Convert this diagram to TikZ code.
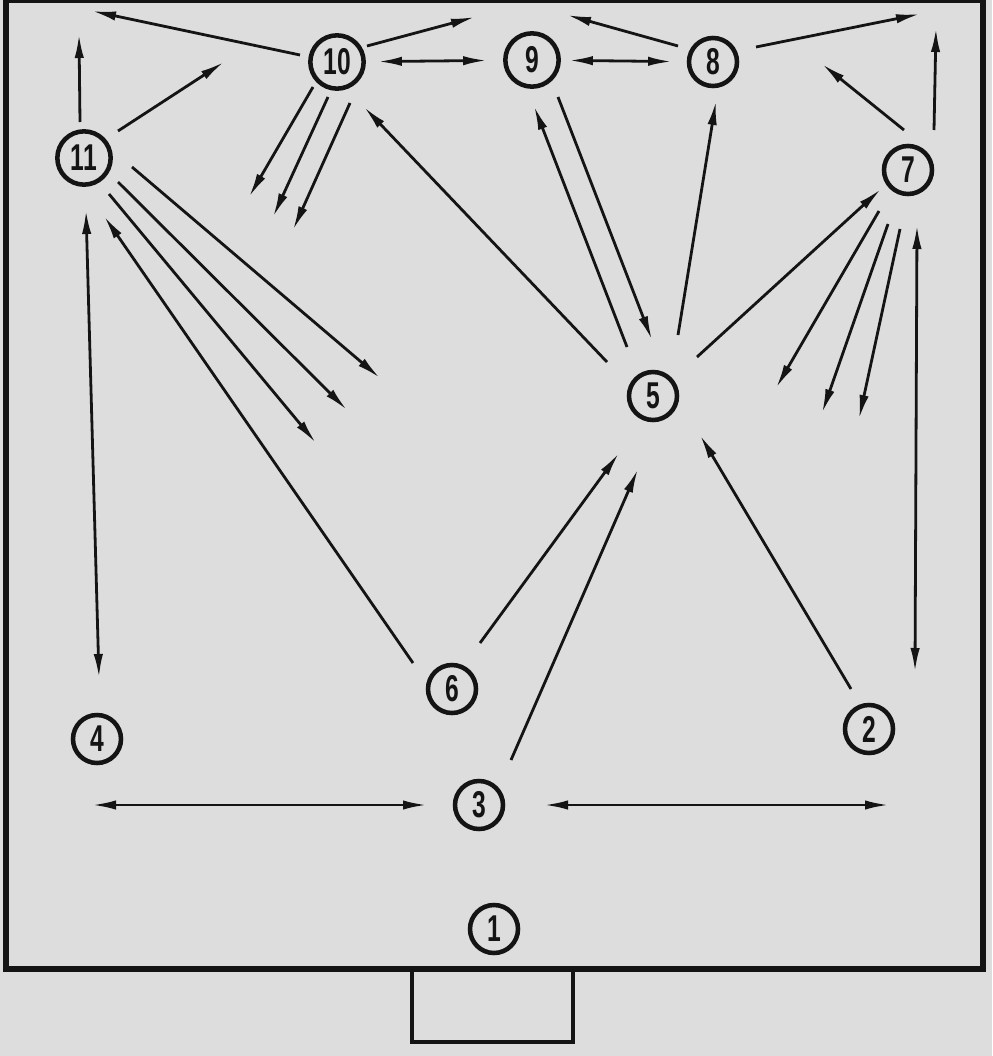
\documentclass[tikz,border=0pt]{standalone}
\usepackage{fontspec}
\setmainfont{Liberation Sans}
\usetikzlibrary{arrows.meta}
\definecolor{bg}{RGB}{221,221,221}
\definecolor{ink}{RGB}{20,20,20}
\newcommand\numlab[1]{\scalebox{0.66}[1]{#1}}
\begin{document}
\begin{tikzpicture}[x=0.75pt,y=-0.75pt,
  spot/.style={circle,draw=ink,line width=3.4pt,minimum size=36pt,inner sep=0pt,
    font=\fontsize{28}{28}\selectfont\bfseries,text=ink},
  bigspot/.style={minimum size=40pt},
  tipk/.tip={Latex[length=18pt,width=7pt]},
  arr/.style={draw=ink,line width=2.1pt,-tipk},
  darr/.style={draw=ink,line width=2.1pt,tipk-tipk},
  field/.style={draw=ink,line width=4.5pt},
  goal/.style={draw=ink,line width=3.5pt},
]
\fill[bg] (0,0) rectangle (992,1056);
\useasboundingbox (0,0) rectangle (992,1056);

% field and goal
\draw[field] (6,0) rectangle (983,969);
\draw[goal] (412,969) -- (412,1042) -- (573,1042) -- (573,969);

% positions
\node[spot] (n1) at (494,929) {\numlab{1}};
\node[spot] (n2) at (869,729) {\numlab{2}};
\node[spot] (n3) at (479,805) {\numlab{3}};
\node[spot] (n4) at (97,739) {\numlab{4}};
\node[spot] (n5) at (653,396) {\numlab{5}};
\node[spot] (n6) at (452,689) {\numlab{6}};
\node[spot] (n7) at (908,170) {\numlab{7}};
\node[spot] (n8) at (713,62) {\numlab{8}};
\node[spot,bigspot] (n9) at (532,60) {\numlab{9}};
\node[spot,bigspot] (n10) at (337,62) {\numlab{10}};
\node[spot,bigspot] (n11) at (84,158) {\numlab{11}};

% free ends and offset ends
\coordinate (a1) at (300,55);  \coordinate (a2) at (92,11);
\coordinate (b1) at (367,46);  \coordinate (b2) at (475,17);
\coordinate (d1) at (313,87);  \coordinate (d2) at (249,197);
\coordinate (e1) at (328,97);  \coordinate (e2) at (273,217);
\coordinate (f1) at (350,103); \coordinate (f2) at (293,230);
\coordinate (g1) at (607,362); \coordinate (g2) at (364,107);
\coordinate (h1) at (80,122);  \coordinate (h2) at (79,34);
\coordinate (i1) at (118,131); \coordinate (i2) at (224,62);
\coordinate (j1) at (132,167); \coordinate (j2) at (380,378);
\coordinate (k1) at (118,182); \coordinate (k2) at (347,410);
\coordinate (l1) at (109,194); \coordinate (l2) at (316,443);
\coordinate (m1) at (413,663); \coordinate (m2) at (104,216);
\coordinate (o1) at (99,678);  \coordinate (o2) at (86,210);
\coordinate (p1) at (678,46);  \coordinate (p2) at (567,15);
\coordinate (q1) at (756,47);  \coordinate (q2) at (920,14);
\coordinate (r1) at (934,130); \coordinate (r2) at (936,28);
\coordinate (s1) at (904,130); \coordinate (s2) at (822,64);
\coordinate (t1) at (627,347); \coordinate (t2) at (534,106);
\coordinate (u1) at (558,97);  \coordinate (u2) at (652,340);
\coordinate (v1) at (678,335); \coordinate (v2) at (716,101);
\coordinate (w1) at (697,357); \coordinate (w2) at (881,189);
\coordinate (x1) at (879,211); \coordinate (x2) at (776,388);
\coordinate (y1) at (888,224); \coordinate (y2) at (822,413);
\coordinate (z1) at (900,229); \coordinate (z2) at (859,419);
\coordinate (aa1) at (915,672); \coordinate (aa2) at (917,225);
\coordinate (bb1) at (851,689); \coordinate (bb2) at (700,435);
\coordinate (cc1) at (480,643); \coordinate (cc2) at (619,453);
\coordinate (dd1) at (511,760); \coordinate (dd2) at (638,469);
\coordinate (ee1) at (92,805);  \coordinate (ee2) at (427,805);
\coordinate (ff1) at (544,805); \coordinate (ff2) at (889,805);

% connectors
\draw[arr] (a1) -- (a2);
\draw[arr] (b1) -- (b2);
\draw[darr,shorten <=9pt,shorten >=12pt] (n10) -- (n9);
\draw[darr,shorten <=6pt,shorten >=11pt] (n9) -- (n8);
\draw[arr] (d1) -- (d2);
\draw[arr] (e1) -- (e2);
\draw[arr] (f1) -- (f2);
\draw[arr] (g1) -- (g2);
\draw[arr] (h1) -- (h2);
\draw[arr] (i1) -- (i2);
\draw[arr] (j1) -- (j2);
\draw[arr] (k1) -- (k2);
\draw[arr] (l1) -- (l2);
\draw[arr] (m1) -- (m2);
\draw[darr] (o1) -- (o2);
\draw[arr] (p1) -- (p2);
\draw[arr] (q1) -- (q2);
\draw[arr] (r1) -- (r2);
\draw[arr] (s1) -- (s2);
\draw[arr] (t1) -- (t2);
\draw[arr] (u1) -- (u2);
\draw[arr] (v1) -- (v2);
\draw[arr] (w1) -- (w2);
\draw[arr] (x1) -- (x2);
\draw[arr] (y1) -- (y2);
\draw[arr] (z1) -- (z2);
\draw[darr] (aa1) -- (aa2);
\draw[arr] (bb1) -- (bb2);
\draw[arr] (cc1) -- (cc2);
\draw[arr] (dd1) -- (dd2);
\draw[darr] (ee1) -- (ee2);
\draw[darr] (ff1) -- (ff2);
\end{tikzpicture}
\end{document}
